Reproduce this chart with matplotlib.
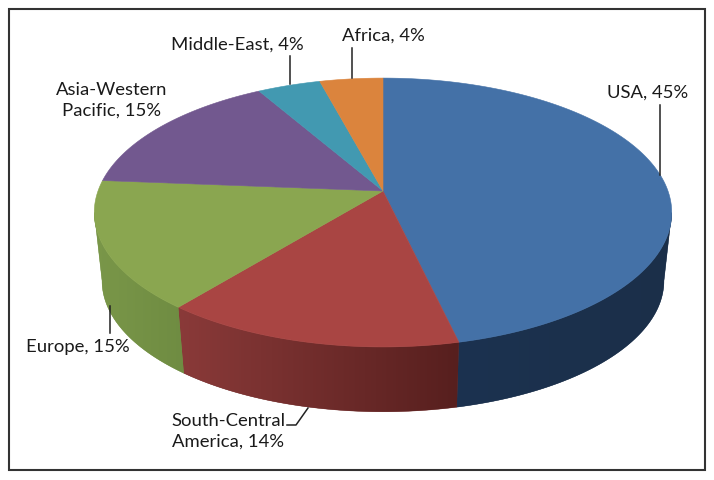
import numpy as np
import matplotlib
matplotlib.use('Agg')
import matplotlib.pyplot as plt
from matplotlib.patches import Rectangle, Polygon
from matplotlib.colors import to_rgb

plt.rcParams['font.family'] = ['Lato', 'DejaVu Sans']

# data
regions = ['USA', 'South-Central America', 'Europe', 'Asia-Western Pacific', 'Middle-East', 'Africa']
shares = [45, 14, 15, 15, 4, 4]
labels = ['USA, 45%', 'South-Central\nAmerica, 14%', 'Europe, 15%',
          'Asia-Western\nPacific, 15%', 'Middle-East, 4%', 'Africa, 4%']

# colours: top, wall at start of slice, wall at end of slice
top_colors = ['#4471A7', '#A94543', '#8AA650', '#72588F', '#4299B1', '#DB843D']
wall_start = ['#1B2F49', '#571F1E', '#6F8C42', '#5A4672', '#347A8D', '#AF6931']
wall_end = ['#1C3250', '#8A3A39', '#7A9749', '#5A4672', '#347A8D', '#AF6931']

# perspective of the disc, in pixels
cx, cy = 383, 191
bx, ay, k = 285, 131, 0.16
bottom_y, bottom_scale = 260, 0.973


def rim(t, y0=cy, s=1.0):
    d = 1 + k * np.cos(t)
    return cx + s * bx * np.sin(t) / d, y0 - s * ay * np.cos(t) / d


fig = plt.figure(figsize=(7.14, 4.8), dpi=100)
ax = fig.add_axes([0, 0, 1, 1])

edges = np.cumsum([0] + shares) / sum(shares) * 2 * np.pi
# where the rim turns back, the wall is hidden past these angles
side_r = np.arccos(-k)
side_l = 2 * np.pi - side_r

# walls first, the top covers whatever is behind
for i in range(len(shares)):
    lo, hi = max(edges[i], side_r), min(edges[i + 1], side_l)
    if hi <= lo:
        continue
    a = np.linspace(lo, hi, 150)
    xt, yt = rim(a)
    xb, yb = rim(a, bottom_y, bottom_scale)
    xs, ys = np.r_[xt, xb[::-1]], np.r_[yt, yb[::-1]]
    # same colour under the gradient so the outer edge stays smooth
    mid = (np.array(to_rgb(wall_start[i])) + np.array(to_rgb(wall_end[i]))) / 2
    ax.fill(xs, ys, color=mid, lw=0.3, zorder=1)
    # gradient runs from right (start of slice) to left (end of slice)
    f = np.linspace(1, 0, 200)[:, None]
    grad = (np.array(to_rgb(wall_end[i])) * f + np.array(to_rgb(wall_start[i])) * (1 - f))[None, :, :]
    im = ax.imshow(grad, extent=(xs.min(), xs.max(), ys.max(), ys.min()), aspect='auto', zorder=2)
    im.set_clip_path(Polygon(np.c_[xs, ys], transform=ax.transData))

for i in range(len(shares)):
    a = np.linspace(edges[i], edges[i + 1], 200)
    xt, yt = rim(a)
    ax.fill(np.r_[cx, xt], np.r_[cy, yt], color=top_colors[i], lw=0.4, zorder=3)

ax.set_xlim(0, 714)
ax.set_ylim(480, 0)
ax.axis('off')

# leader lines
leaders = [
    ([660, 660], [105, 175]),
    ([110, 110], [306, 333]),
    ([287, 296, 308], [425, 425, 408]),
    ([289.5, 289.5], [56, 84]),
    ([351.5, 351.5], [48, 78]),
]
for lx, ly in leaders:
    ax.plot(lx, ly, color='#222222', lw=1.1, zorder=4)

label_pos = [(648, 93), (228, 431), (78, 347), (112, 100), (237, 45), (383, 36)]
for lab, (lx, ly) in zip(labels, label_pos):
    ax.text(lx, ly, lab, ha='center', va='center', fontsize=13.3, color='#1a1a1a',
            linespacing=1.33)

ax.add_patch(Rectangle((8.5, 8.5), 696.5, 461.5, fill=False, ec='#333333', lw=1.5, zorder=5))

fig.savefig('out.png', dpi=100)
